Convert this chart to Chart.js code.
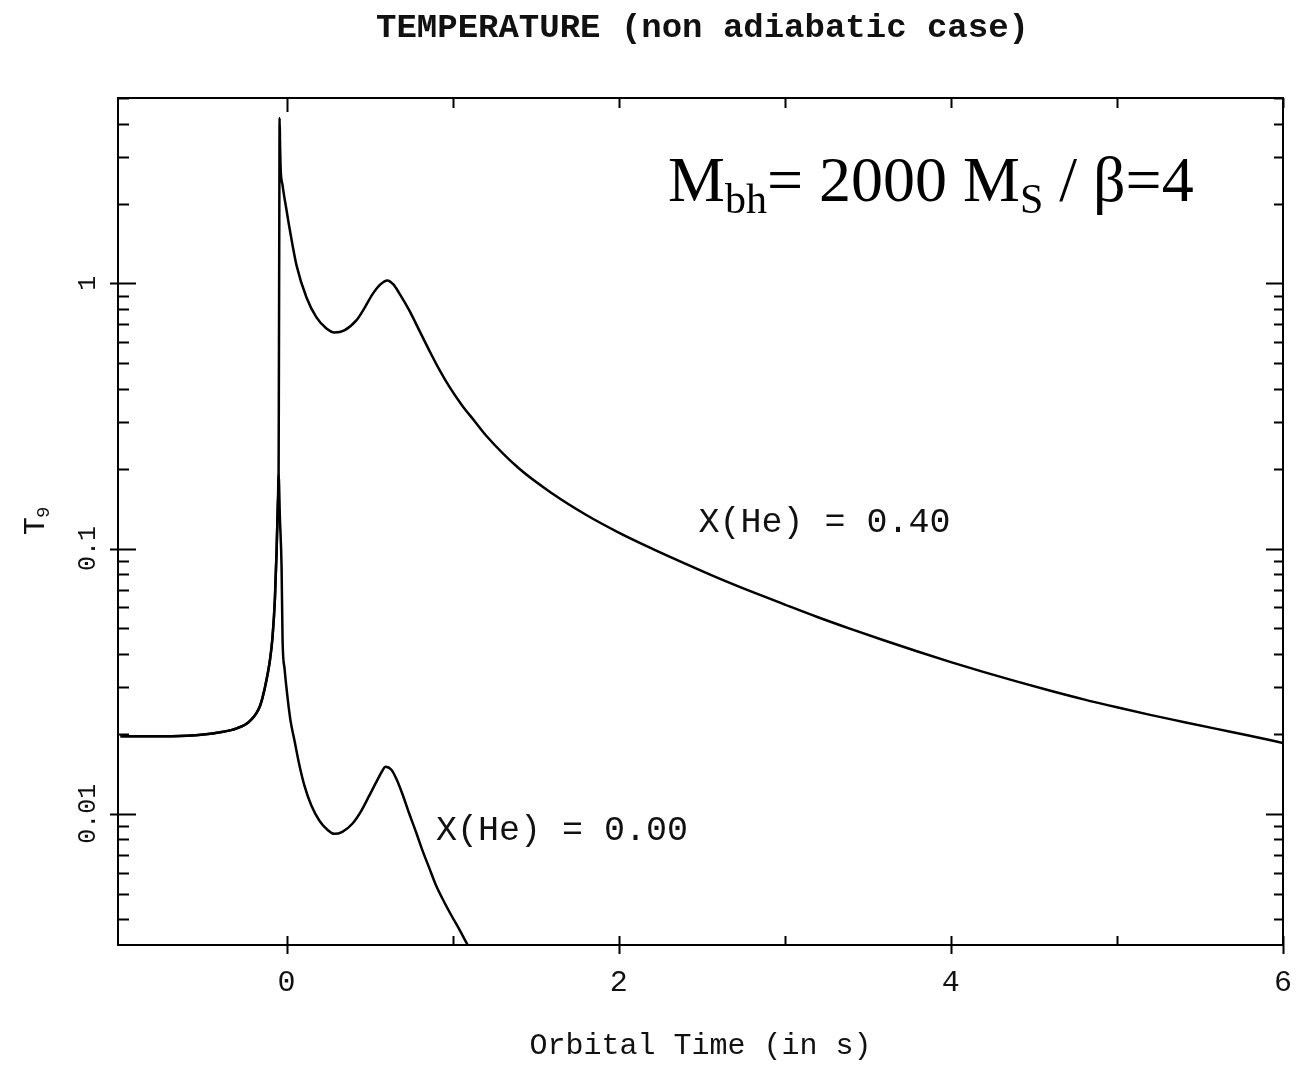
<!DOCTYPE html>
<html><head><meta charset="utf-8">
<script src="https://cdn.jsdelivr.net/npm/chart.js@4/dist/chart.umd.min.js"></script>
<style>html,body{margin:0;padding:0;background:#fff}#wrap{width:1302px;height:1066px}</style>
</head><body><div id="wrap"><canvas id="c" width="1302" height="1066"></canvas></div>
<script>
// ---- data (orbital time in s, T9) ----
const timeHe40 = [-1.0,-0.8,-0.6,-0.5,-0.4,-0.3,-0.22,-0.16,-0.13,-0.10,-0.085,-0.07,-0.06,-0.052,-0.048,-0.046,-0.044,-0.042,-0.039,-0.036,-0.024,0.0,0.018,0.06,0.12,0.18,0.24,0.288,0.348,0.42,0.468,0.517,0.565,0.607,0.643,0.679,0.739,0.799,0.859,0.919,0.979,1.057,1.129,1.201,1.4,1.6,1.8,2.0,2.2,2.4,2.6,2.8,3.0,3.2,3.4,3.6,3.8,4.0,4.2,4.4,4.6,4.8,5.0,5.2,5.4,5.6,5.8,6.0];
const tempHe40 = [0.0196,0.0196,0.0197,0.0199,0.0203,0.0210,0.0224,0.0255,0.030,0.038,0.046,0.065,0.098,0.15,0.19,0.5,1.5,4.2,3.3,2.74,2.343,1.886,1.613,1.169,0.885,0.744,0.676,0.653,0.665,0.725,0.805,0.909,0.991,1.026,0.991,0.917,0.791,0.665,0.559,0.4736,0.4087,0.3465,0.3041,0.267,0.2003,0.1613,0.1344,0.1149,0.1000,0.0878,0.0774,0.0688,0.0615,0.0551,0.0497,0.0450,0.0409,0.0373,0.0342,0.0315,0.0291,0.0270,0.0252,0.0236,0.0222,0.0209,0.0197,0.0185];
const timeHe00 = [-1.0,-0.8,-0.6,-0.5,-0.4,-0.3,-0.22,-0.16,-0.13,-0.10,-0.085,-0.07,-0.06,-0.052,-0.048,-0.040,-0.030,-0.024,-0.012,0.006,0.024,0.048,0.078,0.108,0.150,0.198,0.246,0.288,0.336,0.396,0.450,0.498,0.547,0.577,0.595,0.631,0.661,0.697,0.739,0.781,0.817,0.859,0.901,0.949,0.997,1.045,1.087,1.135];
const tempHe00 = [0.0196,0.0196,0.0197,0.0199,0.0203,0.0210,0.0224,0.0255,0.030,0.038,0.046,0.065,0.098,0.15,0.19,0.13,0.085,0.045,0.0352,0.0274,0.0224,0.01885,0.01518,0.01275,0.01072,0.00941,0.0087,0.0084,0.00855,0.00917,0.01026,0.0117,0.01343,0.01453,0.01504,0.01466,0.01355,0.0119,0.0100,0.00848,0.00731,0.00625,0.00535,0.00465,0.00409,0.00362,0.00323,0.00286];
const seriesNames = ['X(He) = 0.40', 'X(He) = 0.00'];
const xLabeledTicks = [0, 2, 4, 6];
const yMajorTicks = [0.01, 0.1, 1];
const yTickLabels = ['0.01', '0.1', '1'];
const chartTitle = 'TEMPERATURE (non adiabatic case)';
const xTitle = 'Orbital Time (in s)';

const toPoints = (xs, ys) => xs.map((x, i) => ({x, y: ys[i]}));
const MONO = '"Liberation Mono", "DejaVu Sans Mono", monospace';
const SERIF = '"Liberation Serif", "DejaVu Serif", serif';

const decor = {
  id: 'decor',
  afterDraw(chart) {
    const {ctx, chartArea: a, scales: {x, y}} = chart;
    ctx.save();
    ctx.strokeStyle = '#000';
    ctx.fillStyle = '#111';
    // frame
    ctx.lineWidth = 2;
    ctx.strokeRect(a.left, a.top, a.right - a.left, a.bottom - a.top);
    // x ticks (integers only)
    x.ticks.forEach(t => {
      if (!Number.isInteger(t.value)) return;
      const px = Math.round(x.getPixelForValue(t.value)) + 0.5;
      const lab = xLabeledTicks.includes(t.value);
      ctx.beginPath();
      ctx.moveTo(px, a.bottom - 9); ctx.lineTo(px, a.bottom + (lab ? 9 : 0));
      ctx.moveTo(px, a.top); ctx.lineTo(px, a.top + (t.value === 0 ? 14 : 10));
      ctx.stroke();
    });
    // y ticks (integer mantissas only)
    y.ticks.forEach(t => {
      const v = t.value;
      const e = Math.floor(Math.log10(v) + 1e-9);
      const m = v / Math.pow(10, e);
      if (Math.abs(m - Math.round(m)) > 1e-6) return;
      const py = Math.round(y.getPixelForValue(v)) + 0.5;
      const major = Math.round(m) === 1;
      ctx.beginPath();
      if (major) {
        ctx.moveTo(a.left - 8, py); ctx.lineTo(a.left + 18, py);
        ctx.moveTo(a.right - 17, py); ctx.lineTo(a.right, py);
      } else {
        ctx.moveTo(a.left, py); ctx.lineTo(a.left + 11, py);
        ctx.moveTo(a.right - 9, py); ctx.lineTo(a.right, py);
      }
      ctx.stroke();
    });
    // y tick labels rotated
    ctx.font = '25px ' + MONO;
    ctx.textAlign = 'center'; ctx.textBaseline = 'middle';
    yMajorTicks.forEach((v, i) => {
      const py = y.getPixelForValue(v);
      ctx.save(); ctx.translate(88, py); ctx.rotate(-Math.PI / 2);
      ctx.fillText(yTickLabels[i], 0, 0); ctx.restore();
    });
    // y title T9
    ctx.save(); ctx.translate(36, 522); ctx.rotate(-Math.PI / 2);
    ctx.font = '30px ' + MONO; ctx.textAlign = 'left'; ctx.textBaseline = 'middle';
    ctx.fillText('T', -13, 0);
    ctx.font = '19px ' + MONO;
    ctx.fillText('9', 4, 8);
    ctx.restore();
    // title
    ctx.font = 'bold 34px ' + MONO; ctx.textAlign = 'center'; ctx.textBaseline = 'middle';
    ctx.fillText(chartTitle, (a.left + a.right) / 2 + 2, 28);
    // series labels
    ctx.font = '35px ' + MONO; ctx.textAlign = 'left'; ctx.textBaseline = 'middle';
    ctx.fillText(seriesNames[0], x.getPixelForValue(2.48), y.getPixelForValue(0.1254));
    ctx.fillText(seriesNames[1], x.getPixelForValue(0.9), y.getPixelForValue(0.0086));
    // annotation
    ctx.fillStyle = '#000';
    ctx.textBaseline = 'alphabetic';
    let cx = 668; const base = 201;
    const big = '64px ' + SERIF, small = '42px ' + SERIF;
    const seg = (txt, f, dy) => { ctx.font = f; ctx.fillText(txt, cx, base + dy); cx += ctx.measureText(txt).width; };
    seg('M', big, 0); seg('bh', small, 12); seg('= 2000 M', big, 0); seg('S', small, 12); seg(' / \u03B2=4', big, 0);
    ctx.restore();
  }
};

new Chart(document.getElementById('c'), {
  type: 'line',
  data: {
    datasets: [
      {label: seriesNames[0], data: toPoints(timeHe40, tempHe40), borderColor: '#000', borderWidth: 2.5, pointRadius: 0, cubicInterpolationMode: 'monotone', fill: false},
      {label: seriesNames[1], data: toPoints(timeHe00, tempHe00), borderColor: '#000', borderWidth: 2.5, pointRadius: 0, cubicInterpolationMode: 'monotone', fill: false}
    ]
  },
  options: {
    responsive: false, animation: false, devicePixelRatio: 1,
    layout: {padding: {top: 98, right: 19, left: 0, bottom: 0}},
    plugins: {legend: {display: false}, title: {display: false}, tooltip: {enabled: false}},
    scales: {
      x: {
        type: 'linear', min: -1.015, max: 6, position: 'bottom',
        grid: {display: false, drawTicks: false}, border: {display: false},
        ticks: {stepSize: 1, autoSkip: false, maxRotation: 0, padding: 20, color: '#111',
          font: {family: MONO, size: 30},
          callback: v => xLabeledTicks.includes(v) ? String(v) : ''},
        title: {display: true, text: xTitle, color: '#111', font: {family: MONO, size: 30}, padding: {top: 0, bottom: 2}},
        afterFit: s => { s.height = 121; s.paddingLeft = 0; s.paddingRight = 0; }
      },
      y: {
        type: 'logarithmic', min: 0.0032, max: 5,
        grid: {display: false, drawTicks: false}, border: {display: false},
        ticks: {display: false},
        afterFit: s => { s.width = 118; s.paddingTop = 0; s.paddingBottom = 0; }
      }
    }
  },
  plugins: [decor]
});
</script></body></html>
